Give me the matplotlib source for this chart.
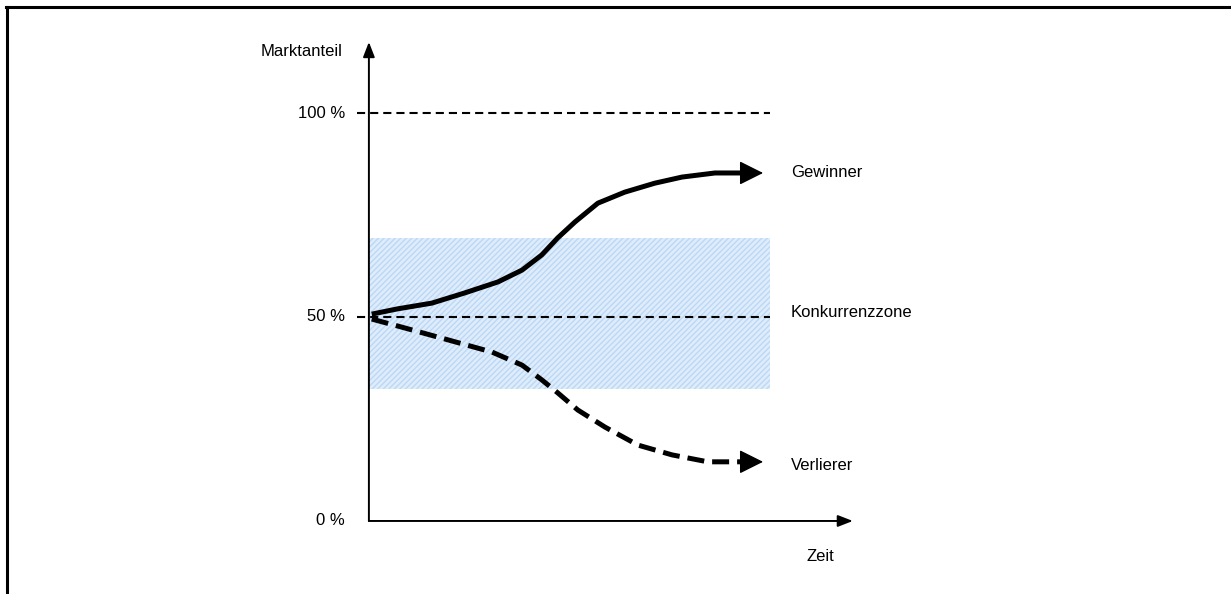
import matplotlib
matplotlib.use("Agg")
import matplotlib.pyplot as plt
from matplotlib.lines import Line2D

plt.rcParams['font.family'] = ['Liberation Sans', 'DejaVu Sans']

# market share (%) over time (0..100)
t_win = [0.7, 7.2, 15.7, 23.9, 32.2, 38.2, 43.1, 47.1, 51.4, 57.1, 63.8, 71.3, 78.1, 86.3, 93.0]
share_win = [50.7, 52.0, 53.4, 55.9, 58.6, 61.5, 65.2, 69.4, 73.3, 77.9, 80.6, 82.8, 84.3, 85.3, 85.3]
t_lose = [0.7, 9.0, 19.7, 30.7, 38.2, 43.1, 47.1, 52.1, 58.9, 67.1, 75.6, 84.5, 93.0]
share_lose = [49.5, 47.3, 44.4, 41.4, 38.2, 34.6, 31.4, 27.2, 23.0, 18.6, 16.2, 14.5, 14.5]
arrow_tip = 98.3

zone_low, zone_high = 32.4, 69.3
t_end = 100
levels = [0, 50, 100]
level_labels = ['0 %', '50 %', '100 %']

fig = plt.figure(figsize=(12.31, 5.94), dpi=100)
ax = fig.add_axes([0, 0, 1, 1])
ax.set_xlim(-92.0, 215.0)
ax.set_ylim(-17.9, 127.7)
ax.axis('off')

# frame lines (top and left)
fig.add_artist(Line2D([0.005, 1], [0.988, 0.988], color='black', lw=2.2, transform=fig.transFigure))
fig.add_artist(Line2D([0.0057, 0.0057], [0, 0.988], color='black', lw=2.2, transform=fig.transFigure))

# competition zone
ax.fill_between([0, t_end], zone_low, zone_high, facecolor='#deecfb', edgecolor='#bcd8f4',
                hatch='//////', linewidth=0, zorder=1)

# reference levels
for lv in [50, 100]:
    ax.plot([-3, t_end], [lv, lv], color='black', lw=1.5, dashes=(3.9, 2.4), zorder=2)

# axes with arrows
axis_arrow = dict(arrowstyle='-|>,head_length=0.9,head_width=0.35', color='black',
                  lw=1.4, mutation_scale=10, shrinkA=0, shrinkB=0)
ax.annotate('', xy=(0, 117.4), xytext=(0, 0), arrowprops=axis_arrow)
ax.annotate('', xy=(120.7, 0), xytext=(0, 0), arrowprops=axis_arrow)

# winner / loser curves
ax.plot(t_win, share_win, color='black', lw=3.6, solid_capstyle='butt',
        solid_joinstyle='round', zorder=3)
ax.plot(t_lose, share_lose, color='black', lw=3.6, dashes=(3.4, 1.6),
        dash_joinstyle='round', zorder=3)
head = dict(arrowstyle='-|>,head_length=1.5,head_width=0.75', color='black',
            lw=1, mutation_scale=10, shrinkA=0, shrinkB=0)
ax.annotate('', xy=(arrow_tip, share_win[-1]), xytext=(t_win[-1] - 1, share_win[-1]),
            arrowprops=head)
ax.annotate('', xy=(arrow_tip, share_lose[-1]), xytext=(t_lose[-1] - 1, share_lose[-1]),
            arrowprops=head)

# labels
fs = 12
ax.text(-6.5, 115, 'Marktanteil', ha='right', va='center', fontsize=fs)
for lv, lab in zip(levels, level_labels):
    ax.text(-6.0, lv, lab, ha='right', va='center', fontsize=fs)
ax.text(105.2, 85.3, 'Gewinner', ha='left', va='center', fontsize=fs)
ax.text(105.2, 51.0, 'Konkurrenzzone', ha='left', va='center', fontsize=fs)
ax.text(105.2, 13.5, 'Verlierer', ha='left', va='center', fontsize=fs)
ax.text(112.5, -8.6, 'Zeit', ha='center', va='center', fontsize=fs)

fig.savefig('out.png', dpi=100)
